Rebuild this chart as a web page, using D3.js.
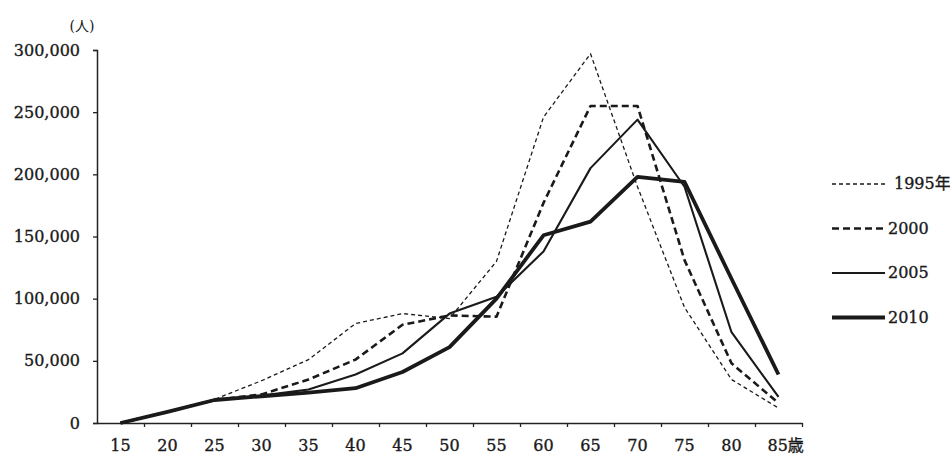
<!DOCTYPE html>
<html>
<head>
<meta charset="utf-8">
<script src="https://cdn.jsdelivr.net/npm/d3@7"></script>
<style>
  body { margin: 0; background: #fff; }
  text { font-family: "DejaVu Serif", "Noto Sans CJK JP", serif; fill: #1a1a1a; }
  .lbl { font-size: 16px; stroke: #1a1a1a; stroke-width: 0.35px; }
</style>
</head>
<body>
<div id="chart"></div>
<script>
//************* data ***************/
var ages = ["15","20","25","30","35","40","45","50","55","60","65","70","75","80","85"];

var v1995 = [0, 9000, 19000, 34000, 51000, 80000, 88000, 84000, 130000, 246000, 297000, 190000, 93000, 35000, 12000];
var v2000 = [0, 9000, 18500, 23000, 35000, 51000, 79000, 86500, 85500, 177000, 255000, 255000, 131000, 48000, 16000];
var v2005 = [0, 9000, 18500, 22000, 27000, 39000, 56000, 88000, 101500, 138000, 205000, 244000, 190000, 73000, 21000];
var v2010 = [0, 9000, 18500, 21500, 24500, 28000, 41000, 61000, 100000, 151000, 162000, 198000, 194000, 116000, 39000];

var seriesNames = ["1995年", "2000", "2005", "2010"];
var yTicks = [0, 50000, 100000, 150000, 200000, 250000, 300000];

//************* set dimensions ***************/
var W = 950, H = 458;
var margin = {left: 97, right: 148, top: 50, bottom: 35};
var width = W - margin.left - margin.right,
    height = H - margin.top - margin.bottom;

//*************** setup svg *****************/
var svg = d3.select("#chart")
  .append("svg")
    .attr("width", W)
    .attr("height", H)
  .append("g")
    .attr("transform", "translate(" + margin.left + "," + margin.top + ")");

//************* scales ***************/
var x = d3.scaleBand()
  .domain(ages)
  .range([0, width])
  .padding(0);

// category boundaries for the tick marks
var xEdge = d3.scaleLinear()
  .domain([0, ages.length])
  .range([0, width]);

var y = d3.scaleLinear()
  .domain([0, 300000])
  .range([height, 0]);

//************* Axes ***************/
var fmt = d3.format(",");

var yAxis = svg.append("g")
  .attr("class", "y-axis")
  .call(d3.axisLeft(y).tickValues(yTicks).tickFormat(fmt).tickSize(4).tickPadding(13));

yAxis.select(".domain").attr("stroke", "#222").attr("stroke-width", 1.5);
yAxis.selectAll(".tick line").attr("stroke", "#222").attr("stroke-width", 1.3);
yAxis.selectAll("text")
  .attr("class", "lbl")
  .attr("fill", "#1a1a1a");

// tick marks on category edges
var xTickAxis = svg.append("g")
  .attr("transform", "translate(0," + height + ")")
  .call(d3.axisBottom(xEdge).tickValues(d3.range(1, ages.length + 1)).tickFormat("").tickSize(4).tickSizeOuter(0));

xTickAxis.select(".domain").attr("stroke", "#222").attr("stroke-width", 1.5);
xTickAxis.selectAll(".tick line").attr("stroke", "#222").attr("stroke-width", 1.3);

// labels at category centres
var xAxis = svg.append("g")
  .attr("transform", "translate(0," + height + ")")
  .call(d3.axisBottom(x).tickSize(0).tickPadding(17));

xAxis.select(".domain").remove();
xAxis.selectAll("text")
  .attr("class", "lbl")
  .attr("fill", "#1a1a1a");

// last label carries the unit
xAxis.selectAll(".tick")
  .filter(function(d) { return d === ages[ages.length - 1]; })
  .select("text")
    .attr("text-anchor", "start")
    .attr("x", -11)
    .text(function(d) { return d + "歳"; });

// unit of y axis
svg.append("text")
  .attr("x", -15)
  .attr("y", -19)
  .attr("text-anchor", "middle")
  .style("font-size", "14px")
  .text("(人)");

//************* lines ***************/
var series = [
  {name: seriesNames[0], values: v1995, width: 1.3, dash: "4,3"},
  {name: seriesNames[1], values: v2000, width: 2.6, dash: "7,4"},
  {name: seriesNames[2], values: v2005, width: 2.1, dash: null},
  {name: seriesNames[3], values: v2010, width: 3.8, dash: null}
];

var line = d3.line()
  .x(function(d, i) { return x(ages[i]) + x.bandwidth() / 2; })
  .y(function(d) { return y(d); });

svg.selectAll("path.series")
  .data(series)
  .enter()
  .append("path")
    .attr("class", "series")
    .attr("fill", "none")
    .attr("stroke", "#1a1a1a")
    .attr("stroke-linejoin", "round")
    .attr("stroke-width", function(d) { return d.width; })
    .attr("stroke-dasharray", function(d) { return d.dash; })
    .attr("d", function(d) { return line(d.values); });

//*************** legend *****************/
var legend = svg.append("g")
  .attr("transform", "translate(" + (width + 30) + ",134)");

series.forEach(function(s, i) {
  var row = legend.append("g")
    .attr("transform", "translate(0," + (i * 44.5) + ")");

  row.append("line")
    .attr("x1", 0)
    .attr("x2", 53)
    .attr("stroke", "#1a1a1a")
    .attr("stroke-width", s.width)
    .attr("stroke-dasharray", s.dash);

  row.append("text")
    .attr("class", "lbl")
    .attr("x", i === 0 ? 62 : 56)
    .attr("y", 5)
    .text(s.name);
});
</script>
</body>
</html>
